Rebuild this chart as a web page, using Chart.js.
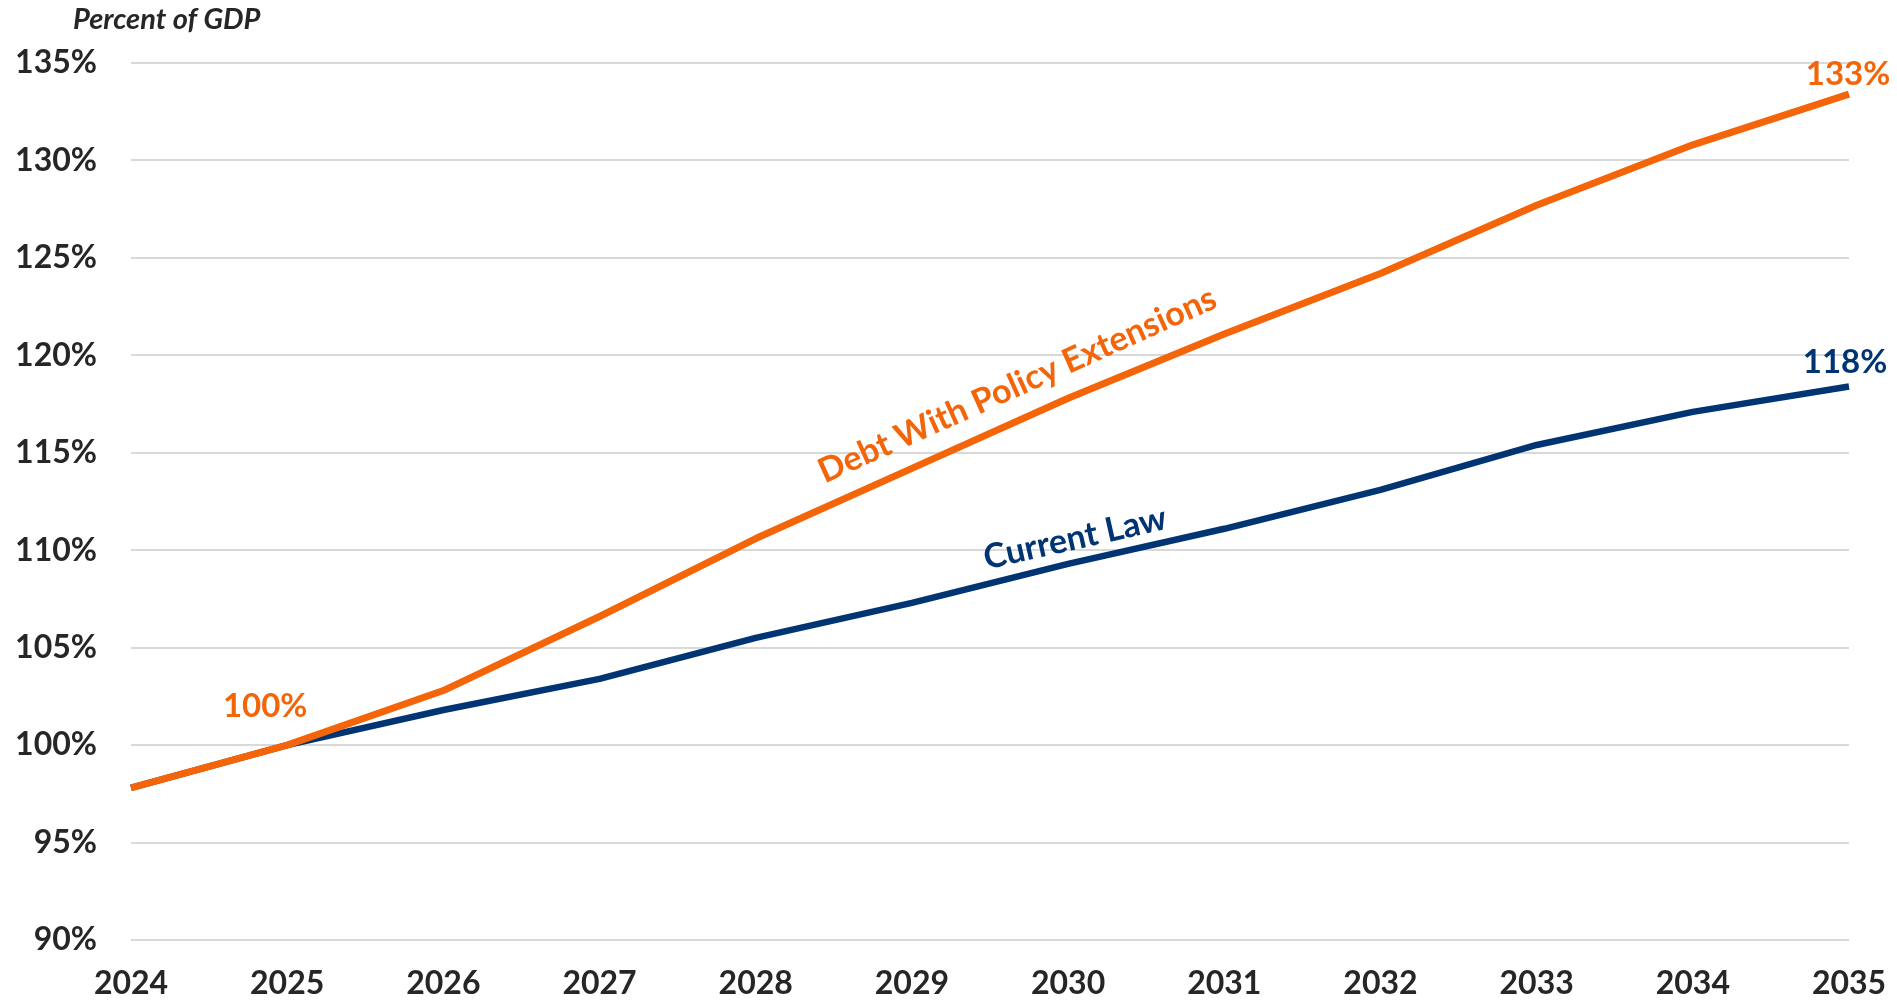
<!DOCTYPE html>
<html>
<head>
<meta charset="utf-8">
<script src="https://cdn.jsdelivr.net/npm/chart.js@4"></script>
<style>
  body { margin: 0; background: #ffffff; }
  #wrap { width: 1897px; height: 1006px; position: relative; }
</style>
</head>
<body>
<div id="wrap"><canvas id="debtChart"></canvas></div>
<script>
// data
const years = ["2024", "2025", "2026", "2027", "2028", "2029", "2030", "2031", "2032", "2033", "2034", "2035"];
const policyExtensions = [97.8, 100.0, 102.8, 106.6, 110.6, 114.2, 117.8, 121.1, 124.2, 127.7, 130.8, 133.4];
const currentLaw = [97.8, 100.0, 101.8, 103.4, 105.5, 107.3, 109.3, 111.1, 113.1, 115.4, 117.1, 118.4];
const yTicks = [90, 95, 100, 105, 110, 115, 120, 125, 130, 135];

const orange = "#f4650a";
const navy = "#003473";
const textColor = "#262626";
const fontFamily = "Lato, 'Open Sans', sans-serif";

// point on a dataset line at a fractional index
function linePoint(chart, dsIndex, idx) {
    const pts = chart.getDatasetMeta(dsIndex).data;
    const i = Math.floor(idx);
    const t = idx - i;
    const a = pts[i], b = pts[Math.min(i + 1, pts.length - 1)];
    return {
        x: a.x + (b.x - a.x) * t,
        y: a.y + (b.y - a.y) * t,
        angle: Math.atan2(b.y - a.y, b.x - a.x)
    };
}

const labelsPlugin = {
    id: 'lineLabels',
    afterDatasetsDraw(chart) {
        const ctx = chart.ctx;
        const area = chart.chartArea;
        ctx.save();
        ctx.textBaseline = 'middle';

        // axis caption
        ctx.font = "italic bold 29px " + fontFamily;
        ctx.fillStyle = textColor;
        ctx.textAlign = 'left';
        ctx.fillText("Percent of GDP", area.left - 58, 20);
        ctx.textAlign = 'center';

        ctx.font = "bold 33px " + fontFamily;
        // start value
        let p = linePoint(chart, 0, 1);
        ctx.fillStyle = orange;
        ctx.fillText(Math.round(policyExtensions[1]) + "%", p.x - 22, p.y - 39);
        // end values
        const last = years.length - 1;
        p = linePoint(chart, 0, last);
        ctx.fillText(Math.round(policyExtensions[last]) + "%", p.x - 1, p.y - 20);
        p = linePoint(chart, 1, last);
        ctx.fillStyle = navy;
        ctx.fillText(Math.round(currentLaw[last]) + "%", p.x - 4, p.y - 24);

        // series names along the lines
        ctx.font = "bold 34px " + fontFamily;
        p = linePoint(chart, 0, 5.675);
        ctx.save();
        ctx.translate(p.x, p.y - 36);
        ctx.rotate(p.angle);
        ctx.fillStyle = orange;
        ctx.fillText("Debt With Policy Extensions", 0, 0);
        ctx.restore();

        p = linePoint(chart, 1, 6.045);
        ctx.save();
        ctx.translate(p.x, p.y - 24);
        ctx.rotate(p.angle);
        ctx.fillStyle = navy;
        ctx.fillText("Current Law", 0, 0);
        ctx.restore();

        ctx.restore();
    }
};

const ctx = document.getElementById("debtChart").getContext("2d");

const config = {
    type: 'line',
    data: {
        labels: years,
        datasets: [{
            label: 'Debt With Policy Extensions',
            data: policyExtensions,
            borderColor: orange,
            backgroundColor: orange,
            borderWidth: 7,
            pointRadius: 0,
            tension: 0,
            borderJoinStyle: 'round',
            fill: false
        }, {
            label: 'Current Law',
            data: currentLaw,
            borderColor: navy,
            backgroundColor: navy,
            borderWidth: 6.5,
            pointRadius: 0,
            tension: 0,
            borderJoinStyle: 'round',
            fill: false
        }]
    },
    options: {
        responsive: true,
        maintainAspectRatio: false,
        animation: false,
        layout: {
            padding: { left: 0, right: 48, top: 63, bottom: 0 }
        },
        plugins: {
            legend: { display: false },
            tooltip: { enabled: false }
        },
        scales: {
            x: {
                offset: false,
                grid: { display: false, drawTicks: false },
                border: { display: false },
                ticks: {
                    color: textColor,
                    font: { family: fontFamily, size: 32, weight: 'bold' },
                    padding: 24,
                    maxRotation: 0,
                    autoSkip: false
                },
                afterFit(axis) {
                    axis.height = 66;
                    // let the labels hang past the plot edges
                    axis.paddingLeft = 0;
                    axis.paddingRight = 0;
                }
            },
            y: {
                min: yTicks[0],
                max: yTicks[yTicks.length - 1],
                afterBuildTicks(axis) {
                    axis.ticks = yTicks.map(v => ({ value: v }));
                },
                grid: { color: '#d9d9d9', lineWidth: 2, drawTicks: false },
                border: { display: false },
                ticks: {
                    color: textColor,
                    font: { family: fontFamily, size: 32, weight: 'bold' },
                    padding: 34,
                    callback: (v) => v + '%'
                },
                afterFit(axis) { axis.width = 131; }
            }
        }
    },
    plugins: [labelsPlugin]
};

const myChart = new Chart(ctx, config);
</script>
</body>
</html>
